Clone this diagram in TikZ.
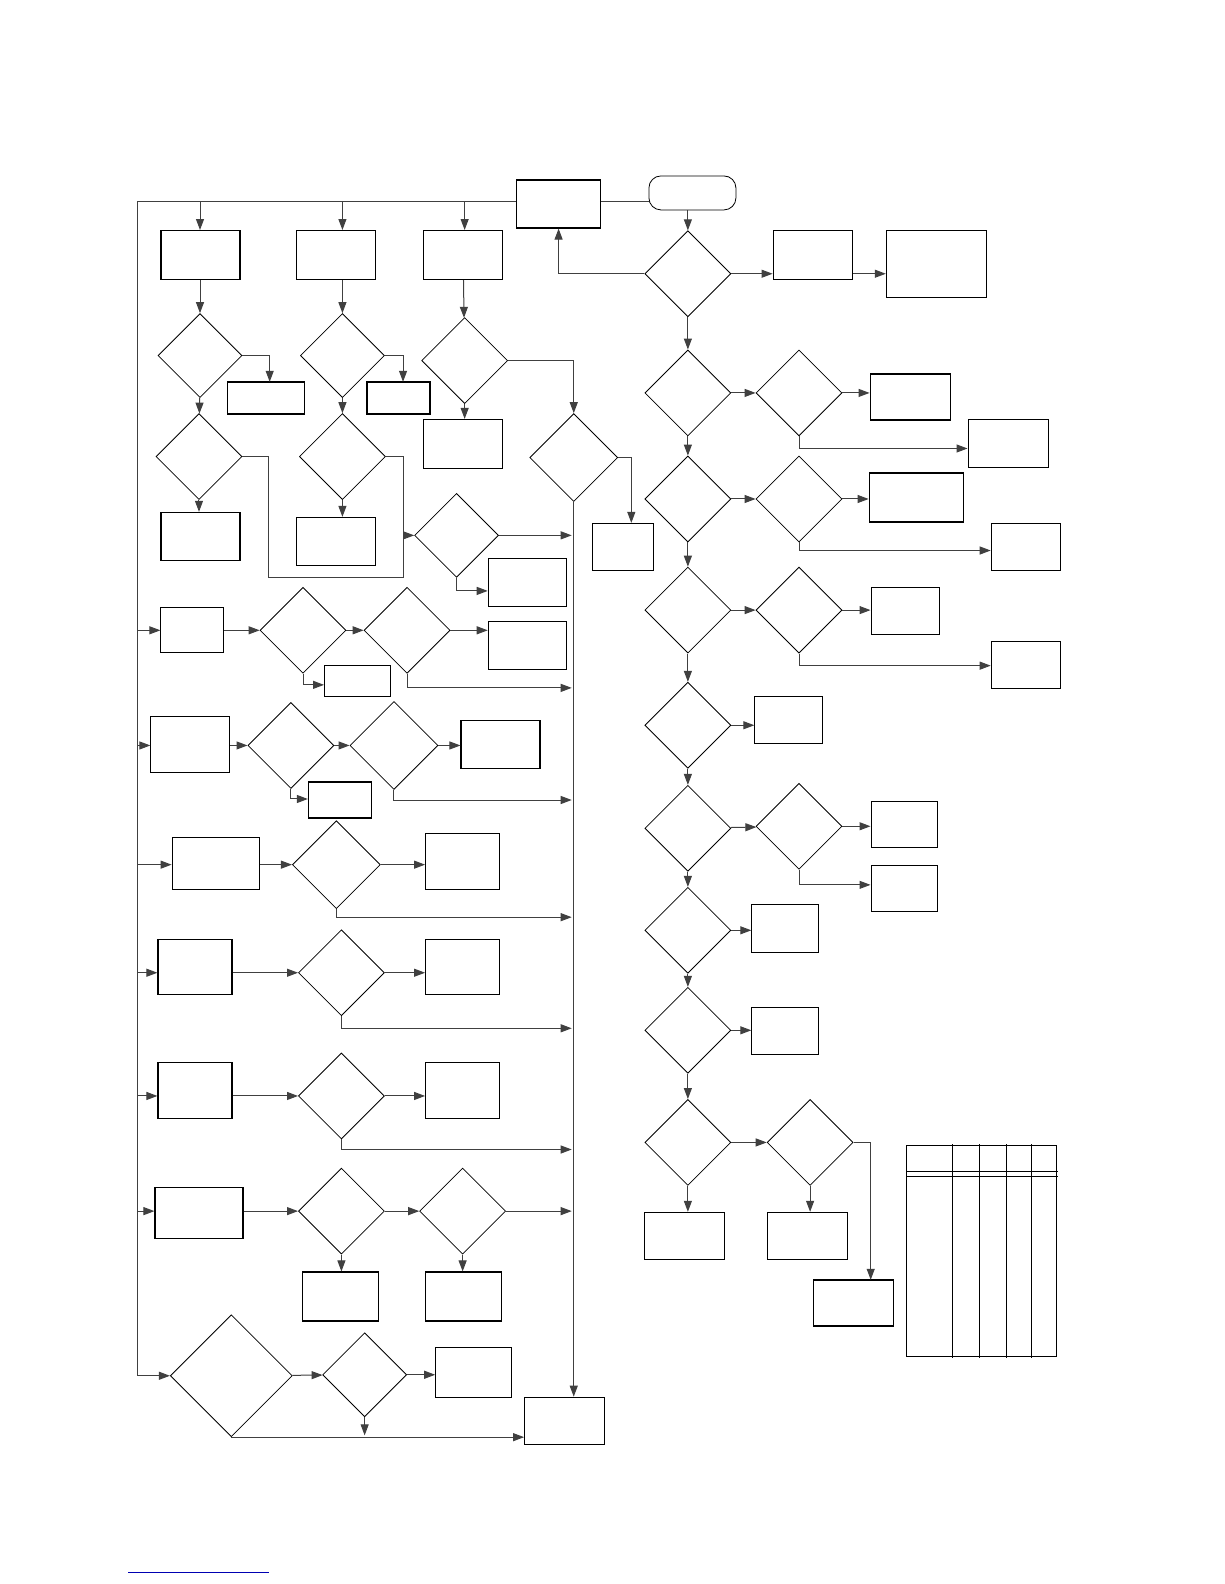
\documentclass[tikz,border=0pt]{standalone}
\usetikzlibrary{shapes.geometric,arrows.meta}
\tikzset{
 box/.style={draw,line width=1.1pt,inner sep=0pt,rectangle},
 dia/.style={draw,line width=0.8pt,inner sep=0pt,diamond},
 ar/.style={draw=black!75,line width=1pt,-{Triangle[length=11pt,width=8pt]}},
 ln/.style={draw=black!75,line width=1pt}
}
\newcommand\bx[5]{\node[box,minimum width={#4-#2},minimum height={#5-#3}] (#1) at ({(#2+#4)/2},{(#3+#5)/2}) {};}
\newcommand\dm[4]{\node[dia,minimum width={2*#4},minimum height={2*#4}] (#1) at (#2,#3) {};}
\begin{document}
\begin{tikzpicture}[x=1.0101pt,y=-1.0101pt]
\useasboundingbox[fill=white] (0pt,0pt) rectangle (1224pt,-1584pt);
% top
\bx{t1}{511}{178}{595}{226}
\node[draw,line width=0.8pt,rounded corners=12pt,minimum width=87,minimum height=34] (start) at (685.5,191) {};
\draw[ln] (t1.east|-0,199) -- (start.west|-0,199);
\coordinate (lt) at (136,199);
\coordinate (lb) at (136,1362);
\draw[ln] (t1.west|-lt) -- (lt) -- (lb);
% columns
\bx{b1}{159}{228}{238}{277}
\bx{b2}{293}{228}{372}{277}
\bx{b3}{419}{228}{498}{277}
\draw[ar] (198,199) -- (b1.north-|198,0);
\draw[ar] (339,199) -- (b2.north-|339,0);
\draw[ar] (460,199) -- (b3.north-|460,0);
\dm{d1}{198}{352}{42}
\dm{d2}{197}{452}{43}
\dm{d3}{339}{352}{42}
\dm{d4}{339}{452}{43}
\dm{d6}{460}{357}{43}
\dm{d7}{568}{453}{44}
\dm{d5}{452}{530}{42}
\bx{s1}{225}{378}{302}{410}
\bx{s2}{363}{378}{426}{410}
\bx{c1}{159}{507}{238}{555}
\bx{c2}{293}{512}{372}{560}
\bx{c3}{419}{415}{498}{464}
\bx{c4}{586}{518}{647}{565}
\bx{c5}{483}{553}{561}{601}
\draw[ar] (b1.south-|d1) -- (d1);
\draw[ar] (d1) -- (d2);
\draw[ar] (d2) -- (c1.north-|d2);
\draw[ar] (d1.east) -| (267,378);
\draw[ar] (b2.south-|d3) -- (d3);
\draw[ar] (d3) -- (d4);
\draw[ar] (d4) -- (c2.north-|d4);
\draw[ar] (d3.east) -| (399,378);
\draw[ar] (b3) -- (d6);
\draw[ar] (d6) -- (c3.north-|d6);
\draw[ar] (d6.east) -| (d7.north);
\draw[ar] (d7.east) -| (c4.north-|625,0);
\draw[ln] (d2.east) -- (266,452) -- (266,572) -- (399,572) -- (399,452) -- (d4.east);
\draw[ar] (399,530) -- (d5.west);
\draw[ar] (d5.east) -- (566,530);
\draw[ar] (d5.south) |- (c5.west|-0,585);
% final box and rail
\bx{fin}{519}{1383}{599}{1430}
\draw[ar] (d7.south) -- (d7.south|-fin.north);
% row 1
\bx{r1a}{159}{601}{222}{646}
\dm{r1b}{300}{624}{43}
\dm{r1c}{403}{624}{43}
\bx{r1d}{483}{615}{561}{663}
\bx{r1e}{321}{659}{387}{690}
\draw[ar] (136,624) -- (r1a.west|-0,624);
\draw[ar] (r1a.east|-0,624) -- (r1b);
\draw[ar] (r1b) -- (r1c);
\draw[ar] (r1c) -- (r1d.west|-0,624);
\draw[ar] (r1b.south) |- (r1e.west|-0,678);
\draw[ar] (r1c.south) |- (566,681);
% row 2
\bx{r2a}{149}{709}{228}{765}
\dm{r2b}{288}{738}{43}
\dm{r2c}{390}{738}{44}
\bx{r2d}{456}{713}{535}{761}
\bx{r2e}{305}{774}{368}{810}
\draw[ar] (136,738) -- (r2a.west|-0,738);
\draw[ar] (r2a.east|-0,738) -- (r2b);
\draw[ar] (r2b) -- (r2c);
\draw[ar] (r2c) -- (r2d.west|-0,738);
\draw[ar] (r2b.south) |- (r2e.west|-0,791);
\draw[ar] (r2c.south) |- (566,792);
% row 3
\bx{r3a}{170}{829}{257}{881}
\dm{r3b}{333}{856}{44}
\bx{r3c}{421}{825}{495}{881}
\draw[ar] (136,856) -- (r3a.west|-0,856);
\draw[ar] (r3a.east|-0,856) -- (r3b);
\draw[ar] (r3b) -- (r3c.west|-0,856);
\draw[ar] (r3b.south) |- (566,908);
% row 4
\bx{r4a}{156}{930}{230}{985}
\dm{r4b}{338}{963}{43}
\bx{r4c}{421}{930}{495}{985}
\draw[ar] (136,963) -- (r4a.west|-0,963);
\draw[ar] (r4a.east|-0,963) -- (r4b);
\draw[ar] (r4b) -- (r4c.west|-0,963);
\draw[ar] (r4b.south) |- (566,1018);
% row 5
\bx{r5a}{156}{1052}{230}{1108}
\dm{r5b}{338}{1085}{43}
\bx{r5c}{421}{1052}{495}{1108}
\draw[ar] (136,1085) -- (r5a.west|-0,1085);
\draw[ar] (r5a.east|-0,1085) -- (r5b);
\draw[ar] (r5b) -- (r5c.west|-0,1085);
\draw[ar] (r5b.south) |- (566,1138);
% row 6
\bx{r6a}{153}{1175}{241}{1226}
\dm{r6b}{338}{1199}{43}
\dm{r6c}{458}{1199}{43}
\bx{r6d}{299}{1259}{375}{1308}
\bx{r6e}{421}{1259}{497}{1308}
\draw[ar] (136,1199) -- (r6a.west|-0,1199);
\draw[ar] (r6a.east|-0,1199) -- (r6b);
\draw[ar] (r6b) -- (r6c);
\draw[ar] (r6c.east) -- (566,1199);
\draw[ar] (r6b) -- (r6d.north-|r6b);
\draw[ar] (r6c) -- (r6e.north-|r6c);
% row 7
\dm{r7a}{229}{1362}{61}
\dm{r7b}{361}{1361}{42}
\bx{r7c}{431}{1334}{507}{1384}
\draw[ar] (lb) -- (r7a.west);
\draw[ar] (r7a) -- (r7b);
\draw[ar] (r7b) -- (r7c.west|-0,1361);
\draw[ar] (r7a.south) -- (fin.west|-r7a.south);
\draw[ar] (r7b.south) -- (361,1421);
% right column
\dm{q0}{681}{271}{43}
\bx{q0a}{765}{228}{844}{277}
\bx{q0b}{877}{228}{977}{295}
\draw[ar] (start.south-|q0) -- (q0);
\draw[ar] (q0.west) -| (t1.south-|553,0);
\draw[ar] (q0) -- (q0a.west|-0,271);
\draw[ar] (q0a.east|-0,271) -- (q0b.west|-0,271);
\dm{q1}{681}{389}{43}
\dm{q2}{681}{494}{43}
\dm{q3}{681}{604}{43}
\dm{q4}{681}{718}{43}
\dm{q5}{681}{820}{43}
\dm{q6}{681}{921}{43}
\dm{q7}{681}{1020}{43}
\dm{q8}{681}{1131}{43}
\draw[ar] (q0) -- (q1);
\draw[ar] (q1) -- (q2);
\draw[ar] (q2) -- (q3);
\draw[ar] (q3) -- (q4);
\draw[ar] (q4) -- (q5);
\draw[ar] (q5) -- (q6);
\draw[ar] (q6) -- (q7);
\draw[ar] (q7) -- (q8);
% row a
\dm{p1}{791}{389}{43}
\bx{p1a}{861}{370}{941}{416}
\bx{p1b}{958}{415}{1038}{463}
\draw[ar] (q1) -- (p1);
\draw[ar] (p1) -- (p1a.west|-0,389);
\draw[ar] (p1.south) |- (p1b.west|-0,444);
% row b
\dm{p2}{791}{494}{43}
\bx{p2a}{860}{468}{954}{517}
\bx{p2b}{981}{518}{1050}{565}
\draw[ar] (q2) -- (p2);
\draw[ar] (p2) -- (p2a.west|-0,494);
\draw[ar] (p2.south) |- (p2b.west|-0,545);
% row c
\dm{p3}{791}{604}{43}
\bx{p3a}{862}{581}{930}{628}
\bx{p3b}{981}{635}{1050}{682}
\draw[ar] (q3) -- (p3);
\draw[ar] (p3) -- (p3a.west|-0,604);
\draw[ar] (p3.south) |- (p3b.west|-0,659);
% row d
\bx{p4}{747}{689}{815}{736}
\draw[ar] (q4) -- (p4.west|-0,718);
% row e
\dm{p5}{791}{818}{43}
\bx{p5a}{862}{793}{928}{839}
\bx{p5b}{862}{857}{928}{903}
\draw[ar] (q5) -- (p5);
\draw[ar] (p5) -- (p5a.west|-0,818);
\draw[ar] (p5.south) |- (p5b.west|-0,876);
% rows f g
\bx{p6}{744}{895}{811}{943}
\draw[ar] (q6) -- (p6.west|-0,921);
\bx{p7}{744}{997}{811}{1044}
\draw[ar] (q7) -- (p7.west|-0,1020);
% row h
\dm{p8}{802}{1131}{43}
\bx{p8a}{638}{1200}{718}{1247}
\bx{p8b}{759}{1200}{839}{1247}
\bx{p8c}{805}{1267}{885}{1313}
\draw[ar] (q8) -- (p8);
\draw[ar] (q8.south) -- (q8.south|-p8a.north);
\draw[ar] (p8.south) -- (p8.south|-p8b.north);
\draw[ar] (p8.east) -- (862,1131) -- (862,1267);
% table
\bx{tab}{897}{1133}{1047}{1344}
\foreach \x in {943,970,996,1021} \draw[line width=1.1pt] (\x,1133) -- (\x,1344);
\draw[line width=1.1pt] (897,1160) -- (1047,1160);
\draw[line width=1.1pt] (897,1165) -- (1047,1165);
% footer link line
\draw[blue!70!black,line width=1pt] (127,1557) -- (266,1557);
\end{tikzpicture}
\end{document}
